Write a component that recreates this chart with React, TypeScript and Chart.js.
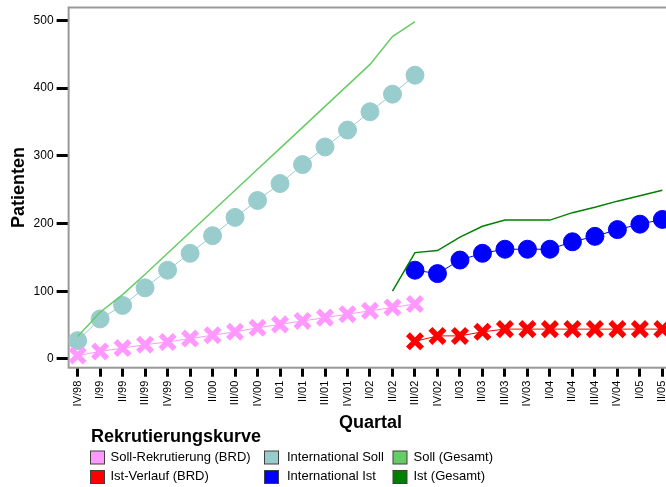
import React, { useEffect, useRef } from "react";
import { Chart, registerables } from "chart.js";

Chart.register(...registerables);

const quarters = [
  "IV/98", "I/99", "II/99", "III/99", "IV/99", "I/00", "II/00", "III/00", "IV/00",
  "I/01", "II/01", "III/01", "IV/01", "I/02", "II/02", "III/02", "IV/02",
  "I/03", "II/03", "III/03", "IV/03", "I/04", "II/04", "III/04", "IV/04", "I/05", "II/05",
];

const yTicks = [0, 100, 200, 300, 400, 500];

const N = null;
const sollBRD = [5, 11, 16, 21, 25, 30, 35, 40, 46, 51, 56, 61, 66, 71, 76, 81, N, N, N, N, N, N, N, N, N, N, N];
const istBRD = [N, N, N, N, N, N, N, N, N, N, N, N, N, N, N, 26, 34, 34, 40, 44, 44, 44, 44, 44, 44, 44, 44];
const intSoll = [27, 59, 79, 105, 131, 156, 182, 209, 234, 259, 287, 313, 338, 365, 391, 419, N, N, N, N, N, N, N, N, N, N, N];
const intIst = [N, N, N, N, N, N, N, N, N, N, N, N, N, N, N, 131, 126, 146, 156, 162, 162, 162, 173, 181, 191, 199, 206];
const sollGesamt = [33, 69, 95, 125, 156, 187, 218, 249, 280, 311, 342, 373, 404, 435, 476, 498, N, N, N, N, N, N, N, N, N, N, N];
const istGesamt = [N, N, N, N, N, N, N, N, N, N, N, N, N, N, 100, 157, 160, 180, 196, 205, 205, 205, 216, 224, 233, 241, 249];

const legendTitle = "Rekrutierungskurve";

const toPts = (arr: (number | null)[]) =>
  arr.map((v, i) => (v == null ? null : { x: i, y: v })).filter((p) => p !== null);

const FONT = "'Liberation Sans', Arial, Helvetica, sans-serif";
const SHIFT = 8; // canvas is drawn 8px above the page top

const framePlugin = {
  id: "frame",
  beforeDatasetsDraw(chart: any) {
    const { ctx, chartArea: a } = chart;
    ctx.save();
    ctx.strokeStyle = "#999999";
    ctx.lineWidth = 2;
    ctx.strokeRect(a.left, a.top, a.right - a.left, a.bottom - a.top);
    ctx.restore();
  },
};

const legendPlugin = {
  id: "customLegend",
  afterDraw(chart: any) {
    const ctx = chart.ctx;
    ctx.save();
    ctx.fillStyle = "#000";
    ctx.textBaseline = "alphabetic";
    ctx.textAlign = "left";
    ctx.font = `bold 18px ${FONT}`;
    ctx.fillText(legendTitle, 91, 442 + SHIFT);
    const colBox = [90.5, 264.5, 393];
    const colText = [110.5, 287, 413.5];
    const rowTop = [451, 470.5];
    const rowBase = [460.7, 480.2];
    ctx.font = `13px ${FONT}`;
    chart.data.datasets.forEach((ds: any) => {
      const c = ds.legendCol;
      const r = ds.legendRow;
      ctx.fillStyle = ds.legendColor;
      ctx.fillRect(colBox[c], rowTop[r] + SHIFT, 14, 13);
      ctx.strokeStyle = "#404040";
      ctx.lineWidth = 1;
      ctx.strokeRect(colBox[c], rowTop[r] + SHIFT, 14, 13);
      ctx.fillStyle = "#000";
      ctx.fillText(ds.label, colText[c], rowBase[r] + SHIFT);
    });
    ctx.restore();
  },
};

export default function App() {
  const ref = useRef<HTMLCanvasElement | null>(null);
  useEffect(() => {
    if (!ref.current) return;
    Chart.defaults.font.family = FONT;
    const chart = new Chart(ref.current, {
      type: "line",
      data: {
        datasets: [
          {
            label: "Soll (Gesamt)",
            data: toPts(sollGesamt) as any,
            borderColor: "#66CC66",
            borderWidth: 1.5,
            pointRadius: 0,
            legendColor: "#66CC66",
            legendCol: 2,
            legendRow: 0,
          } as any,
          {
            label: "Ist (Gesamt)",
            data: toPts(istGesamt) as any,
            borderColor: "#008000",
            borderWidth: 1.5,
            pointRadius: 0,
            legendColor: "#008000",
            legendCol: 2,
            legendRow: 1,
          } as any,
          {
            label: "Soll-Rekrutierung (BRD)",
            data: toPts(sollBRD) as any,
            borderColor: "#FF99FF",
            borderWidth: 1,
            pointStyle: "crossRot",
            pointRadius: 10,
            pointBorderWidth: 5.5,
            pointBorderColor: "#FF99FF",
            pointBackgroundColor: "#FF99FF",
            legendColor: "#FF99FF",
            legendCol: 0,
            legendRow: 0,
          } as any,
          {
            label: "Ist-Verlauf (BRD)",
            data: toPts(istBRD) as any,
            borderColor: "#FF0000",
            borderWidth: 1,
            pointStyle: "crossRot",
            pointRadius: 10,
            pointBorderWidth: 5.5,
            pointBorderColor: "#FF0000",
            pointBackgroundColor: "#FF0000",
            legendColor: "#FF0000",
            legendCol: 0,
            legendRow: 1,
          } as any,
          {
            label: "International Soll",
            data: toPts(intSoll) as any,
            borderColor: "#99CCCC",
            borderWidth: 1,
            pointStyle: "circle",
            pointRadius: 9,
            pointBorderWidth: 1,
            pointBorderColor: "#99CCCC",
            pointBackgroundColor: "#99CCCC",
            legendColor: "#99CCCC",
            legendCol: 1,
            legendRow: 0,
          } as any,
          {
            label: "International Ist",
            data: toPts(intIst) as any,
            borderColor: "#0000FF",
            borderWidth: 1,
            pointStyle: "circle",
            pointRadius: 9,
            pointBorderWidth: 1,
            pointBorderColor: "#0000FF",
            pointBackgroundColor: "#0000FF",
            legendColor: "#0000FF",
            legendCol: 1,
            legendRow: 1,
          } as any,
        ],
      },
      options: {
        animation: false,
        responsive: false,
        layout: { padding: { left: 1, right: 8, top: 6, bottom: 50 } },
        plugins: {
          legend: { display: false },
          tooltip: { enabled: false },
        },
        scales: {
          x: {
            type: "linear",
            min: -0.4,
            max: 26.45,
            afterBuildTicks: (s: any) => {
              s.ticks = quarters.map((_, i) => ({ value: i }));
            },
            ticks: {
              autoSkip: false,
              minRotation: 90,
              maxRotation: 90,
              font: { size: 11 },
              color: "#000",
              padding: 4,
              callback: (v: any) => quarters[Math.round(Number(v))] ?? "",
            },
            grid: {
              display: true,
              drawOnChartArea: false,
              drawTicks: true,
              tickLength: 9,
              tickWidth: 3,
              tickColor: "#000",
            },
            border: { display: false },
            title: {
              display: true,
              text: "Quartal",
              color: "#000",
              font: { size: 18, weight: "bold" },
              padding: { top: 2, bottom: 3 },
            },
          },
          y: {
            type: "linear",
            min: -13,
            max: 519,
            afterBuildTicks: (s: any) => {
              s.ticks = yTicks.map((v) => ({ value: v }));
            },
            ticks: { font: { size: 12 }, color: "#000", padding: 3 },
            grid: {
              display: true,
              drawOnChartArea: false,
              drawTicks: true,
              tickLength: 12,
              tickWidth: 3,
              tickColor: "#000",
            },
            border: { display: false },
            title: {
              display: true,
              text: "Patienten",
              color: "#000",
              font: { size: 18, weight: "bold" },
              padding: { top: 7, bottom: 1 },
            },
          },
        },
      } as any,
      plugins: [framePlugin, legendPlugin],
    });
    return () => chart.destroy();
  }, []);

  return (
    <div style={{ position: "fixed", left: 0, top: 0, width: 666, height: 487, overflow: "hidden", background: "#fff" }}>
      <canvas
        ref={ref}
        width={688}
        height={487 + SHIFT}
        style={{ position: "absolute", left: 0, top: -SHIFT, width: 688, height: 487 + SHIFT, display: "block" }}
      />
    </div>
  );
}
